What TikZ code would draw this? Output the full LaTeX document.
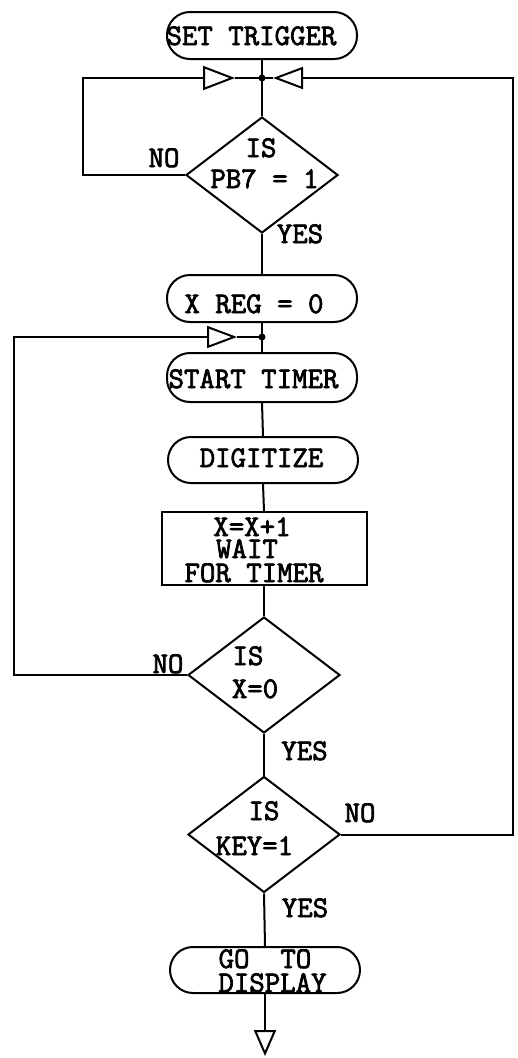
\documentclass[tikz,border=0pt]{standalone}
\usepackage{fontspec}
\newfontfamily\twfont[FakeBold=2.5]{Latin Modern Mono}
\usetikzlibrary{shapes.geometric,arrows.meta}
\begin{document}
\begin{tikzpicture}[x=1pt,y=-1pt, line width=2pt,
  term/.style={draw, rounded corners=23pt, minimum width=190pt, minimum height=47pt, inner sep=0pt},
  dia/.style={draw, diamond, minimum width=152pt, minimum height=116pt, inner sep=0pt},
  procbox/.style={draw, minimum width=205pt, minimum height=73pt, inner sep=0pt},
  txt/.style={anchor=base, inner sep=0pt, text height=17pt, text depth=0pt, font=\fontsize{30}{30}\selectfont\twfont},
  tri/.style={-{Triangle[open,length=30pt,width=22pt]}},
  dot/.style={circle, fill, inner sep=0pt, minimum size=7pt}]
\useasboundingbox (0,0) rectangle (517,1058);

% shapes
\node[term] (t1) at (262,35.5) {};
\node[dot] (j1) at (262,78) {};
\node[dia] (d1) at (262,175) {};
\node[term] (t2) at (262,298.5) {};
\node[dot] (j2) at (262,337) {};
\node[term, minimum height=49pt] (t3) at (262,377.5) {};
\node[term, minimum height=46pt] (t4) at (263,460) {};
\node[procbox] (box) at (264,548.5) {};
\node[dia] (d2) at (264,675) {};
\node[dia] (d3) at (264,834.5) {};
\node[term, minimum height=46pt] (t5) at (265,970) {};

% texts
\node[txt] (s1) at (251.5,45) {SET TRIGGER};
\node[txt] (s2) at (254,313) {X REG = 0};
\node[txt] (s3) at (253.5,388) {START TIMER};
\node[txt] (s4) at (261.5,467) {DIGITIZE};
\node[txt] (s5a) at (252,536) {X=X+1};
\node[txt] (s5b) at (247,558) {WAIT};
\node[txt] (s5c) at (254,582) {FOR TIMER};
\node[txt] (s6a) at (261,157) {IS};
\node[txt] (s6b) at (264.5,188) {PB7 = 1};
\node[txt] (s7a) at (248,665) {IS};
\node[txt] (s7b) at (255,698) {X=0};
\node[txt] (s8a) at (264,820) {IS};
\node[txt] (s8b) at (254.5,855) {KEY=1};
\node[txt] (s9a) at (265,968) {GO\ \ TO};
\node[txt] (s9b) at (272.5,992) {DISPLAY};

% labels
\node[txt] (no1) at (164,167) {NO};
\node[txt] (yes1) at (300,243) {YES};
\node[txt] (no2) at (168,673) {NO};
\node[txt] (yes2) at (304.5,760) {YES};
\node[txt] (no3) at (360,822) {NO};
\node[txt] (yes3) at (305,917) {YES};

% coordinates
\coordinate (c1) at (83,78);
\coordinate (a1) at (235,78);
\coordinate (c2) at (513,78);
\coordinate (a2) at (273,78);
\coordinate (c3) at (14,337);
\coordinate (a3) at (237,337);
\coordinate (endp) at (265,1056);

% connectors
\draw (t1.south) -- (j1.center) -- (d1.north);
\draw[-{Triangle[open,length=32pt,width=24pt]}] (d1.west) -| (c1) -- (a1);
\draw (a1) -- (j1.center);
\draw[tri] (d3.east) -| (c2) -- (a2);
\draw (a2) -- (j1.center);
\draw (d1.south) -- (t2.north);
\draw (t2.south) -- (j2.center) -- (t3.north);
\draw[tri] (d2.west) -| (c3) -- (a3);
\draw (a3) -- (j2.center);
\draw (t3.south) -- (t4.north);
\draw (t4.south) -- (box.north);
\draw (box.south) -- (d2.north);
\draw (d2.south) -- (d3.north);
\draw (d3.south) -- (t5.north);
\draw[-{Triangle[open,length=26pt,width=22pt]}] (t5.south) -- (t5.south |- endp);
\end{tikzpicture}
\end{document}
